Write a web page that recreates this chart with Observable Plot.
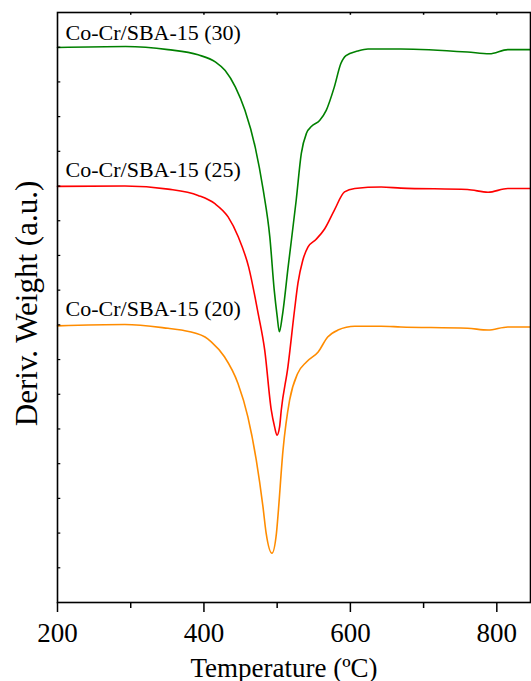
<!DOCTYPE html>
<html><head><meta charset="utf-8">
<script src="https://cdn.jsdelivr.net/npm/d3@7"></script>
<script src="https://cdn.jsdelivr.net/npm/@observablehq/plot@0.6"></script>
<style>body{margin:0;background:#fff}</style>
</head><body><div id="chart"></div>
<script>
const sampleNames = ["Co-Cr/SBA-15 (30)", "Co-Cr/SBA-15 (25)", "Co-Cr/SBA-15 (20)"];
const sampleColors = ["#008000", "#ff0000", "#ff8c00"];
const labelLevels = [16.2, 12.25, 8.25];

const temp30 = [200, 293, 351, 392, 416, 429, 443, 456, 470, 481, 490, 496, 500, 503, 507, 515, 526, 533, 540, 547, 558, 567, 578, 587, 594, 610, 624, 669, 760, 790, 815, 846];
const dtg30 = [15.99, 16.02, 15.93, 15.78, 15.57, 15.33, 14.85, 14.18, 13.12, 11.88, 10.53, 9.00, 8.25, 7.80, 8.25, 9.67, 11.59, 12.94, 13.52, 13.72, 13.89, 14.18, 14.85, 15.53, 15.76, 15.89, 15.95, 15.95, 15.86, 15.81, 15.93, 15.93];

const temp25 = [200, 292, 351, 392, 415, 433, 447, 461, 474, 483, 492, 496.5, 499.7, 503.3, 505.6, 514.7, 523.7, 528.4, 535, 542, 553, 565, 578, 592, 606, 642, 669, 760, 788, 815, 846];
const dtg25 = [11.99, 12.00, 11.91, 11.73, 11.49, 11.11, 10.53, 9.67, 8.33, 7.27, 5.54, 5.06, 4.82, 5.06, 5.54, 6.79, 8.42, 9.20, 9.86, 10.24, 10.46, 10.77, 11.30, 11.83, 11.93, 11.97, 11.94, 11.90, 11.82, 11.93, 11.93];

const temp20 = [200, 292, 351, 369, 401.5, 410, 428, 446.5, 460, 471.5, 480.6, 485, 492.9, 499, 501, 508, 517, 528, 540, 556, 569, 583, 606, 642, 669, 760, 788, 815, 846];
const dtg20 = [7.97, 8.01, 7.90, 7.85, 7.65, 7.51, 7.08, 6.31, 5.35, 4.10, 2.76, 1.99, 1.42, 1.99, 2.47, 4.39, 5.83, 6.60, 6.93, 7.22, 7.65, 7.85, 7.96, 7.96, 7.94, 7.90, 7.85, 7.94, 7.94];

const xMajorTicks = [200, 400, 600, 800];
const xMinorTicks = [300, 500, 700];
const xTopTicks = [300, 400, 500, 600, 700, 800];
const yTicks = [1, 2, 3, 4, 5, 6, 7, 8, 9, 10, 11, 12, 13, 14, 15, 16];

const temps = [temp30, temp25, temp20];
const dtgs = [dtg30, dtg25, dtg20];
const rows = [];
sampleNames.forEach((s, i) => temps[i].forEach((t, j) => rows.push({s, t, v: dtgs[i][j]})));
const labels = sampleNames.map((s, i) => ({s, t: 211, v: labelLevels[i]}));

const serif = "'Liberation Serif', 'Times New Roman', serif";
const chart = Plot.plot({
  width: 531, height: 681,
  marginLeft: 57, marginRight: 1, marginTop: 12, marginBottom: 79,
  x: {domain: [200, 846]},
  y: {domain: [0, 17], axis: null},
  color: {domain: sampleNames, range: sampleColors},
  style: {fontFamily: serif, background: "white", color: "black"},
  marks: [
    Plot.line(rows, {x: "t", y: "v", z: "s", stroke: "s", strokeWidth: 1.6, curve: "monotone-x"}),
    Plot.text(labels, {x: "t", y: "v", text: "s", textAnchor: "start", lineAnchor: "bottom", fontSize: 22, fontFamily: serif, fill: "black"}),
    Plot.ruleY(yTicks, {y: d => d, x1: 200, x2: 204.5, stroke: "black", strokeWidth: 1.2}),
    Plot.ruleX(xTopTicks, {x: d => d, y1: 17, y2: 16.92, stroke: "black", strokeWidth: 1.5}),
    Plot.axisX({ticks: xMajorTicks, tickSize: 10, tickPadding: 10, fontSize: 27, fontFamily: serif, fontVariant: "normal", tickFormat: d => String(d), label: null, strokeWidth: 1.5}),
    Plot.axisX({ticks: xMinorTicks, tickSize: 6, tickFormat: () => "", label: null, strokeWidth: 1.5}),
    Plot.frame({stroke: "black", strokeWidth: 1.6}),
    Plot.text(["Temperature (ºC)"], {frameAnchor: "bottom", textAnchor: "middle", dx: -10, dy: 74, lineAnchor: "bottom", fontSize: 27, fontFamily: serif, text: d => d, fill: "black"}),
    Plot.text(["Deriv. Weight (a.u.)"], {frameAnchor: "left", textAnchor: "middle", lineAnchor: "middle", dx: -30, dy: -4, rotate: -90, fontSize: 31, fontFamily: serif, text: d => d, fill: "black"})
  ]
});
document.getElementById("chart").appendChild(chart);
</script>
</body></html>
